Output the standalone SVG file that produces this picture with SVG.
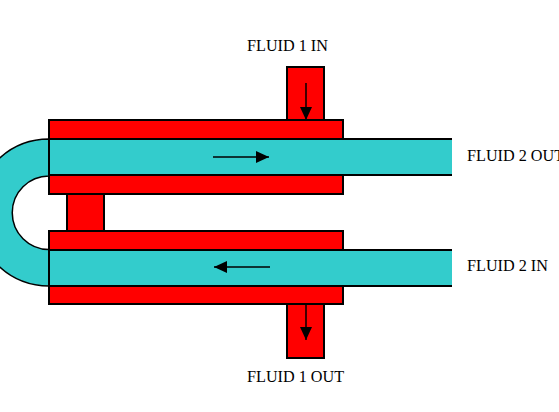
<svg xmlns="http://www.w3.org/2000/svg" width="559" height="412" viewBox="0 0 559 412">
<style>
.red{fill:#ff0000;stroke:#000;stroke-width:2}
.teal{fill:#33cccc;stroke:#000;stroke-width:1.5}
.edge{fill:none;stroke:#000;stroke-width:1.5}
.wall{fill:none;stroke:#000;stroke-width:2}
.lbl{font-family:"Liberation Serif","Times New Roman",serif;font-size:16.2px;fill:#000}
</style>
<defs>
<marker id="ah" markerUnits="userSpaceOnUse" markerWidth="14" markerHeight="12" refX="13" refY="6" orient="auto"><path d="M0,0L13,6L0,12Z" fill="#000"/></marker>
</defs>
<rect width="559" height="412" fill="#fff"/>
<g id="nozzle-in"><rect class="red" x="287" y="67" width="37" height="53"/></g>
<g id="nozzle-out"><rect class="red" x="287" y="304" width="37" height="54"/></g>
<g id="link"><rect class="red" x="67" y="194" width="37" height="37"/></g>
<g id="shell-top"><rect class="red" x="49" y="120" width="294" height="74"/></g>
<g id="shell-bottom"><rect class="red" x="49" y="231" width="294" height="73"/></g>
<g id="bend"><path class="teal" d="M49,139A73.500,73.500 0 0 0 49,286V249.500A36.750,36.750 0 0 1 49,176Z"/></g>
<g id="tube-top"><path d="M49,139H452V175H49Z" fill="#33cccc"/><path class="wall" d="M452,139H49V175H452"/></g>
<g id="tube-bottom"><path d="M49,250H452V286H49Z" fill="#33cccc"/><path class="wall" d="M452,250H49V286H452"/></g>
<g id="connectors">
<path class="edge" marker-end="url(#ah)" d="M306,83V120"/>
<path class="edge" marker-end="url(#ah)" d="M306,304V340"/>
<path class="edge" marker-end="url(#ah)" d="M213,157H269"/>
<path class="edge" marker-end="url(#ah)" d="M270,267H214"/>
</g>
<g id="labels">
<text class="lbl" x="247" y="51">FLUID 1 IN</text>
<text class="lbl" x="467" y="161">FLUID 2 OUT</text>
<text class="lbl" x="467" y="271">FLUID 2 IN</text>
<text class="lbl" x="247" y="382">FLUID 1 OUT</text>
</g>
</svg>
